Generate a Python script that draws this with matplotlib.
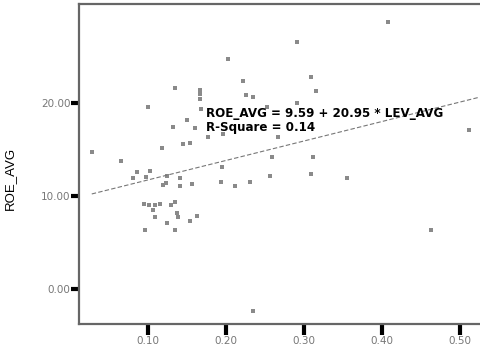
import numpy as np
import matplotlib
matplotlib.use("Agg")
import matplotlib.pyplot as plt
from matplotlib import rcParams

rcParams["font.family"] = ["Liberation Sans", "DejaVu Sans"]

# data
lev_avg = [0.028, 0.065, 0.100, 0.135, 0.167, 0.167, 0.167, 0.168, 0.203, 0.222,
           0.226, 0.235, 0.291, 0.309, 0.315, 0.291, 0.253, 0.408, 0.512, 0.150,
           0.132, 0.160, 0.177, 0.196, 0.267, 0.118, 0.145, 0.154, 0.195, 0.259,
           0.312, 0.081, 0.086, 0.097, 0.103, 0.124, 0.141, 0.119, 0.123, 0.141,
           0.156, 0.194, 0.212, 0.231, 0.256, 0.309, 0.355, 0.095, 0.101, 0.109,
           0.115, 0.106, 0.130, 0.135, 0.137, 0.138, 0.109, 0.124, 0.154, 0.163,
           0.096, 0.135, 0.463, 0.235]
roe_avg = [14.66, 13.72, 19.58, 21.57, 21.36, 20.94, 20.42, 19.37, 24.71, 22.30,
           20.84, 20.63, 26.49, 22.72, 21.26, 20.00, 19.48, 28.69, 17.07, 18.12,
           17.38, 17.28, 16.34, 16.65, 16.34, 15.08, 15.60, 15.71, 13.09, 14.14,
           14.14, 11.94, 12.57, 12.04, 12.67, 12.15, 11.94, 11.10, 11.31, 11.00,
           11.20, 11.41, 11.00, 11.41, 12.15, 12.36, 11.94, 9.11, 9.00, 9.00,
           9.11, 8.48, 9.00, 9.32, 8.17, 7.75, 7.75, 7.02, 7.23, 7.85,
           6.28, 6.28, 6.28, -2.41]
intercept = 9.59
slope = 20.95
r_square = 0.14

x_ticks = [0.10, 0.20, 0.30, 0.40, 0.50]
y_ticks = [0.00, 10.00, 20.00]

fig = plt.figure(figsize=(4.81, 3.46), dpi=100)
ax = fig.add_axes([0.164, 0.064, 0.836, 0.924])

ax.plot(lev_avg, roe_avg, "s", color="#8a8a8a", ms=2.8, mew=0)

xf = np.linspace(min(lev_avg), max(lev_avg) + 0.012, 50)
ax.plot(xf, intercept + slope * xf, color="#777", lw=0.8, ls=(0, (4, 2)))

ax.text(0.1744, 18.85,
        f"ROE_AVG = {intercept:.2f} + {slope:.2f} * LEV_AVG",
        fontsize=8.6, fontweight="bold", color="black", va="center",
        family="DejaVu Sans")
ax.text(0.1744, 17.3, f"R-Square = {r_square:.2f}",
        fontsize=8.6, fontweight="bold", color="black", va="center",
        family="DejaVu Sans")

ax.set_xlim(0.0115, 0.527)
ax.set_ylim(-3.8, 30.6)
ax.set_xticks(x_ticks)
ax.set_xticklabels([f"{v:.2f}" for v in x_ticks])
ax.set_yticks(y_ticks)
ax.set_yticklabels([f"{v:.2f}" for v in y_ticks])
ax.tick_params(direction="out", width=3, color="black",
               labelcolor="#777", pad=0.5)
ax.tick_params(axis="x", length=8)
ax.tick_params(axis="y", length=5.5)
for lab in ax.get_xticklabels() + ax.get_yticklabels():
    lab.set_family("DejaVu Sans")
    lab.set_fontsize(7.5)

for s in ["left", "bottom", "top"]:
    ax.spines[s].set_color("#666")
    ax.spines[s].set_linewidth(1.6)
ax.spines["right"].set_visible(False)

ax.set_ylabel("ROE_AVG", fontsize=9.5)
ax.yaxis.set_label_coords(-0.157, 0.456)

fig.savefig("out.png", dpi=100, facecolor="white")
